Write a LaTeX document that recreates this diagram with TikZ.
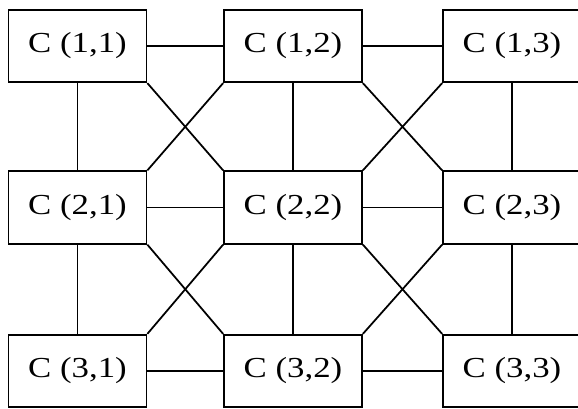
\documentclass[tikz,border=0pt]{standalone}
\usepackage{fontspec}
\setmainfont[FakeStretch=1.2]{Liberation Serif}
\begin{document}
\begin{tikzpicture}[cell/.style={draw, line width=1pt, minimum width=2.76cm, minimum height=1.45cm, inner sep=0pt, font=\fontsize{16.5pt}{19pt}\selectfont}, link/.style={line width=1pt}]
\clip (0,0) rectangle (11.56,-8.18);
\node[cell] (c11) at (1.55,-0.92) {C (1,1)};
\node[cell] (c12) at (5.86,-0.92) {C (1,2)};
\node[cell] (c13) at (10.24,-0.92) {C (1,3)};
\node[cell] (c21) at (1.55,-4.15) {C (2,1)};
\node[cell] (c22) at (5.86,-4.15) {C (2,2)};
\node[cell] (c23) at (10.24,-4.15) {C (2,3)};
\node[cell] (c31) at (1.55,-7.42) {C (3,1)};
\node[cell] (c32) at (5.86,-7.42) {C (3,2)};
\node[cell] (c33) at (10.24,-7.42) {C (3,3)};
% rows
\draw[link] (c11) -- (c12);
\draw[link] (c12) -- (c13);
\draw[link] (c21) -- (c22);
\draw[link] (c22) -- (c23);
\draw[link] (c31) -- (c32);
\draw[link] (c32) -- (c33);
% columns
\draw[link] (c11) -- (c21);
\draw[link] (c21) -- (c31);
\draw[link] (c12) -- (c22);
\draw[link] (c22) -- (c32);
\draw[link] (c13) -- (c23);
\draw[link] (c23) -- (c33);
% crossings
\draw[link] (c11.south east) -- (c22.north west);
\draw[link] (c12.south west) -- (c21.north east);
\draw[link] (c12.south east) -- (c23.north west);
\draw[link] (c13.south west) -- (c22.north east);
\draw[link] (c21.south east) -- (c32.north west);
\draw[link] (c22.south west) -- (c31.north east);
\draw[link] (c22.south east) -- (c33.north west);
\draw[link] (c23.south west) -- (c32.north east);
\end{tikzpicture}
\end{document}
